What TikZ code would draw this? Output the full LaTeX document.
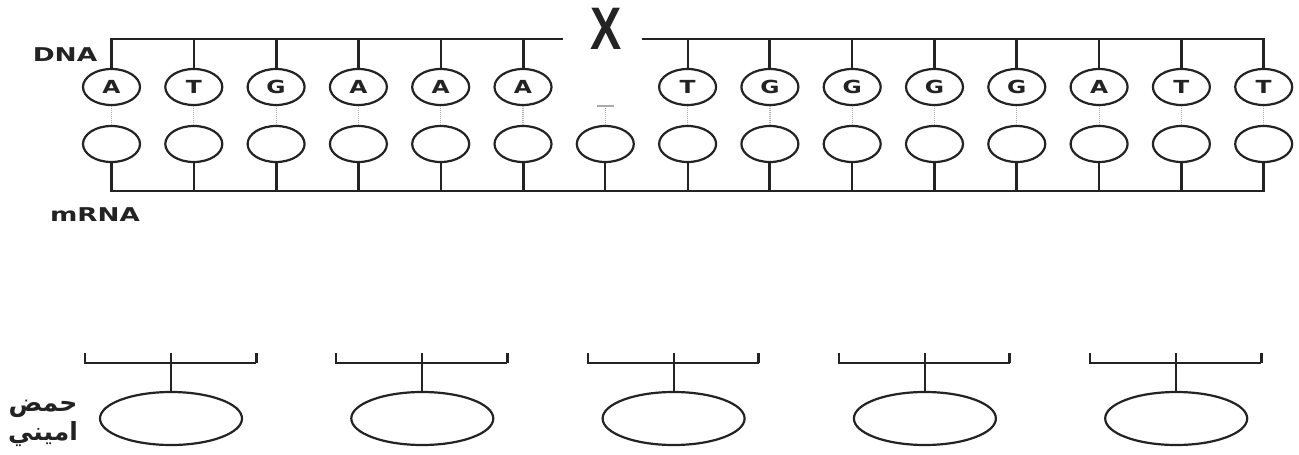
\documentclass[tikz,border=0pt]{standalone}
\usepackage{fontspec}
\usetikzlibrary{shapes.geometric}
\TeXXeTstate=1
\newfontfamily\labfont{DejaVu Sans}
\newfontfamily\arabicfont[Script=Arabic]{DejaVu Sans}
\newfontfamily\xfont{Liberation Sans}
\definecolor{ink}{RGB}{35,35,35}
\definecolor{dotc}{RGB}{170,170,170}
\tikzset{
  strand/.style={draw=ink, line width=2.2pt},
  thickstrand/.style={draw=ink, line width=3pt},
  base/.style={ellipse, draw=ink, line width=2.2pt, minimum width=57pt, minimum height=36pt, inner sep=0pt, fill=white},
  baselabel/.style={font=\labfont\bfseries\fontsize{18}{18}\selectfont, text=ink},
  pairing/.style={draw=dotc, line width=1.2pt, dash pattern=on 1pt off 1pt},
  amino/.style={ellipse, draw=ink, line width=2.2pt, minimum width=142pt, minimum height=53pt, inner sep=0pt},
  bracket/.style={draw=ink, line width=2pt},
  strandname/.style={font=\labfont\bfseries\fontsize{19}{19}\selectfont, text=ink, inner sep=0pt}
}
\begin{document}
\begin{tikzpicture}[x=1pt,y=-1pt]
\useasboundingbox (0,0) rectangle (1299,455);
\fill[white] (0,0) rectangle (1299,455);
% labels
\node[strandname] (dna) at (65,55) {\scalebox{1.39}[1]{DNA}};
\node[strandname] (mrna) at (95,215) {\scalebox{1.38}[1]{mRNA}};
\node[inner sep=0pt, text=ink] (xmark) at (606,29) {\xfont\bfseries\fontsize{60}{60}\selectfont\scalebox{0.78}[1]{X}};
% columns
\foreach \i/\b in {0/A,1/T,2/G,3/A,4/A,5/A,6/,7/T,8/G,9/G,10/G,11/G,12/A,13/T,14/T}{
  \pgfmathsetmacro{\xx}{111.5+82.3*\i}
  \coordinate (u\i) at (\xx,39);
  \coordinate (d\i) at (\xx,191);
  \node[base] (b\i) at (\xx,144) {};
  \ifnum\i=6
    \coordinate (m6) at (\xx,106);
    \coordinate (m6l) at (\xx-8,106);
    \coordinate (m6r) at (\xx+9,106);
    \draw[draw=dotc, line width=1.2pt] (m6l) -- (m6r);
    \draw[pairing] (m6) -- (b6.north);
  \else
    \node[base] (t\i) at (\xx,87) {};
    \node[baselabel] (l\i) at (\xx,87) {\scalebox{1.3}[1]{\b}};
    \draw[pairing] (t\i.south) -- (b\i.north);
  \fi
}
% verticals
\foreach \i in {0,1,3,4,7,9,10,12,13}{
  \draw[strand] (u\i) -- (t\i.north);
}
\foreach \i in {2,5,8,11,14}{
  \draw[thickstrand] (u\i) -- (t\i.north);
}
\foreach \i in {0,1,3,4,6,7,9,10,12,13}{
  \draw[strand] (b\i.south) -- (d\i);
}
\foreach \i in {2,5,8,11,14}{
  \draw[thickstrand] (b\i.south) -- (d\i);
}
% backbones
\coordinate (gapl) at (562,39);
\coordinate (gapr) at (643,39);
\draw[strand, line cap=rect] (u0) -- (gapl);
\draw[strand, line cap=rect] (gapr) -- (u14);
\draw[strand, line cap=rect] (d0) -- (d14);
% amino acids
\foreach \j in {0,...,4}{
  \pgfmathsetmacro{\cx}{171+251.3*\j}
  \coordinate (bl\j) at (\cx-86,363);
  \coordinate (blt\j) at (\cx-86,353);
  \coordinate (br\j) at (\cx+85,363);
  \coordinate (brt\j) at (\cx+85,353);
  \coordinate (bc\j) at (\cx,353);
  \node[amino] (aa\j) at (\cx,418.5) {};
  \draw[bracket] (blt\j) -- (bl\j) -- (br\j);
  \draw[draw=ink, line width=3pt] (br\j) -- (brt\j);
  \draw[bracket] (bc\j) -- (aa\j.north);
}
\node[inner sep=0pt, align=center, text=ink, font=\arabicfont\bfseries\fontsize{25}{29}\selectfont] (amlabel) at (43,423) {\beginR حمض\endR\\\beginR اميني\endR};
\end{tikzpicture}
\end{document}
